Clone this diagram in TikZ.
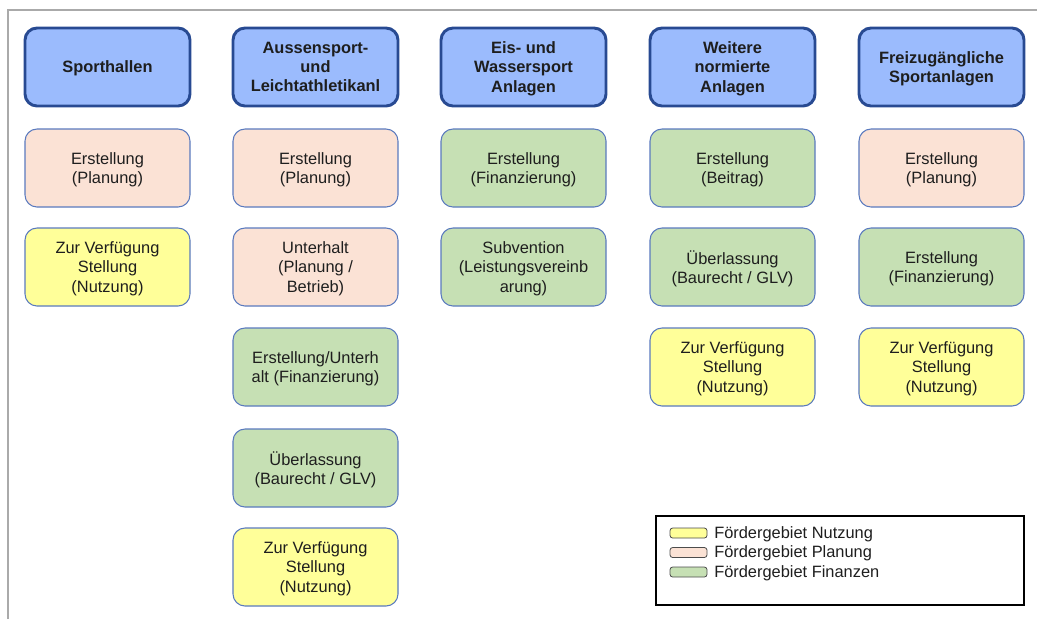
\documentclass[tikz,border=0pt]{standalone}
\usepackage{fontspec}
\setmainfont{Liberation Sans}
\definecolor{hdrfill}{RGB}{155,187,253}
\definecolor{hdrline}{RGB}{40,74,146}
\definecolor{boxline}{RGB}{90,122,190}
\definecolor{planfill}{RGB}{251,226,213}
\definecolor{nutzfill}{RGB}{255,255,153}
\definecolor{finfill}{RGB}{198,224,180}
\definecolor{framegray}{RGB}{170,170,170}
\definecolor{txtgray}{RGB}{30,30,30}

\begin{document}
\begin{tikzpicture}[x=0.75pt,y=0.75pt,yscale=-1,
  cell/.style={rounded corners=9pt, draw=boxline, line width=0.8pt, minimum width=123.75pt, minimum height=58.5pt,
    align=center, inner sep=2pt, text depth=-1.9pt, text=txtgray, font=\fontsize{12.3}{14.8}\selectfont},
  hdr/.style={cell, fill=hdrfill, draw=hdrline, line width=2.2pt, font=\bfseries\fontsize{12.3}{14.4}\selectfont},
  plan/.style={cell, fill=planfill},
  nutz/.style={cell, fill=nutzfill},
  fin/.style={cell, fill=finfill},
  swatch/.style={rounded corners=2pt, draw=black!70, line width=0.6pt, minimum width=27.75pt, minimum height=7.5pt, inner sep=0pt},
  legtext/.style={anchor=west, inner sep=0pt, text=txtgray, font=\fontsize{12.3}{14.8}\selectfont}]
\useasboundingbox (0,0) rectangle (1037,619);

%Frame lines
\draw [framegray, line width=1.5pt] (8,619) -- (8,10) -- (1037,10) ;

%Headers
\node [hdr] (sporthallen) at (107.5,67) {Sporthallen};
\node [hdr] (aussen) at (315.5,67) {Aussensport-\\und\\Leichtathletikanl};
\node [hdr] (eis) at (523.5,67) {Eis- und\\Wassersport\\Anlagen};
\node [hdr] (weitere) at (732.5,67) {Weitere\\normierte\\Anlagen};
\node [hdr] (frei) at (941.5,67) {Freizugängliche\\Sportanlagen};

%Sporthallen
\node [plan] (sporthallen1) at (107.5,168) {Erstellung\\(Planung)};
\node [nutz] (sporthallen2) at (107.5,267) {Zur Verfügung\\Stellung\\(Nutzung)};

%Aussensport
\node [plan] (aussen1) at (315.5,168) {Erstellung\\(Planung)};
\node [plan] (aussen2) at (315.5,267) {Unterhalt\\(Planung /\\Betrieb)};
\node [fin] (aussen3) at (315.5,367) {Erstellung/Unterh\\alt (Finanzierung)};
\node [fin] (aussen4) at (315.5,468) {Überlassung\\(Baurecht / GLV)};
\node [nutz] (aussen5) at (315.5,567) {Zur Verfügung\\Stellung\\(Nutzung)};

%Eis- und Wassersport
\node [fin] (eis1) at (523.5,168) {Erstellung\\(Finanzierung)};
\node [fin] (eis2) at (523.5,267) {Subvention\\(Leistungsvereinb\\arung)};

%Weitere
\node [fin] (weitere1) at (732.5,168) {Erstellung\\(Beitrag)};
\node [fin] (weitere2) at (732.5,267) {Überlassung\\(Baurecht / GLV)};
\node [nutz] (weitere3) at (732.5,367) {Zur Verfügung\\Stellung\\(Nutzung)};

%Freizugaengliche
\node [plan] (frei1) at (941.5,168) {Erstellung\\(Planung)};
\node [fin] (frei2) at (941.5,267) {Erstellung\\(Finanzierung)};
\node [nutz] (frei3) at (941.5,367) {Zur Verfügung\\Stellung\\(Nutzung)};

%Legend
\draw [black, line width=0.8pt] (656,516) rectangle (1024,605) ;
\node [swatch, fill=nutzfill] (legnutz) at (688.5,533) {};
\node [swatch, fill=planfill] (legplan) at (688.5,552.5) {};
\node [swatch, fill=finfill] (legfin) at (688.5,572) {};
\node [legtext] at (714,534) {Fördergebiet Nutzung};
\node [legtext] at (714,553.5) {Fördergebiet Planung};
\node [legtext] at (714,573) {Fördergebiet Finanzen};

\end{tikzpicture}
\end{document}
